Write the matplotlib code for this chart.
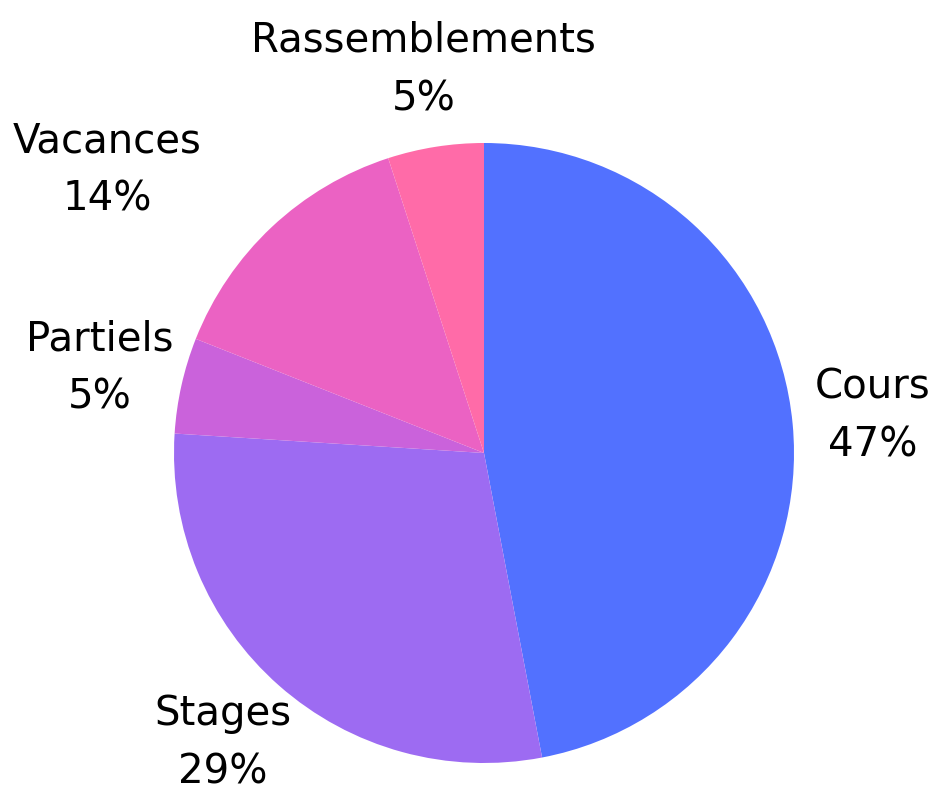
import matplotlib
matplotlib.use("Agg")
import matplotlib.pyplot as plt
import numpy as np

categories = ["Cours", "Stages", "Partiels", "Vacances", "Rassemblements"]
values = [47, 29, 5, 14, 5]
colors = ["#5271FF", "#9D6BF2", "#CA62DB", "#EB62C3", "#FF6BA8"]

# label layout tweaks (in radius units): extra offset per label
label_offsets = [(0.01, 0.0), (-0.015, 0.0), (-0.02, 0.0), (-0.36, 0.0), (0.0, 0.0)]

W, H = 932, 794
cx, cy, R = 484, 453, 310

fig = plt.figure(figsize=(W / 100, H / 100), dpi=100)
ax = fig.add_axes([0, 0, 1, 1])
ax.axis("off")

wedges, _ = ax.pie(values, colors=colors, startangle=90, counterclock=False,
                   radius=1, wedgeprops=dict(linewidth=0))
ax.set_xlim(-cx / R, (W - cx) / R)
ax.set_ylim(-(H - cy) / R, cy / R)
ax.set_aspect("equal")

total = sum(values)
for w, name, v, (ox, oy) in zip(wedges, categories, values, label_offsets):
    ang = np.deg2rad((w.theta1 + w.theta2) / 2)
    x = 1.25 * np.cos(ang) + ox
    y = 1.25 * np.sin(ang) + oy
    ax.text(x, y, f"{name}\n{round(100 * v / total)}%", ha="center", va="center",
            multialignment="center", fontsize=29, color="black",
            family="DejaVu Sans", linespacing=1.6)

fig.savefig("out.png", dpi=100, facecolor="white")
